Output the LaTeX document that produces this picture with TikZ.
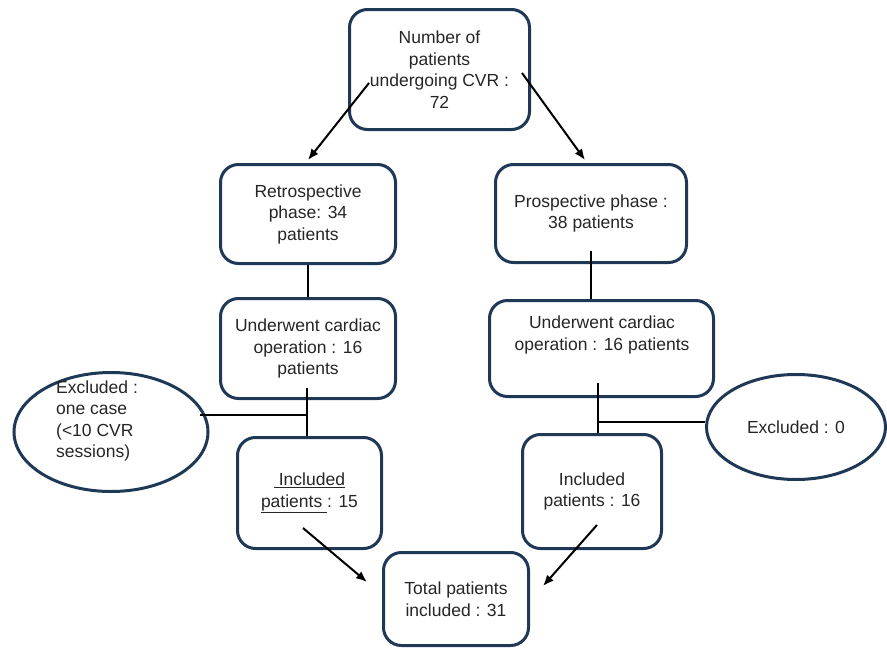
\documentclass[tikz,border=0pt]{standalone}
\usepackage{fontspec}
\setmainfont{Liberation Sans}
\usetikzlibrary{arrows.meta,calc,shapes.geometric}
\definecolor{navy}{RGB}{31,56,86}
\begin{document}
\begin{tikzpicture}[x=1pt,y=-1pt,
  lbl/.style={font=\fontsize{17.5}{21.5}\selectfont, text=black!85},
  box/.style={lbl, draw=navy, line width=3pt, rounded corners=18pt, fill=white, align=center, inner sep=0pt},
  oval/.style={lbl, draw=navy, line width=3pt, ellipse, fill=white, inner sep=0pt},
  conn/.style={line width=2pt, black},
  arr/.style={conn, -{Latex[length=11pt,width=9pt]}}]
\useasboundingbox (0,0) rectangle (887,648);

% boxes
\node[box, minimum width=180pt, minimum height=120pt] (top) at (439.5,69.5)
  {Number of\\patients\\undergoing CVR :\\72};
\node[box, minimum width=175pt, minimum height=99pt] (retro) at (308,214)
  {Retrospective\\phase: 34\\patients};
\node[box, minimum width=191pt, minimum height=98pt] (prosp) at (591,213.5)
  {Prospective phase :\\38 patients};
\node[box, minimum width=175pt, minimum height=100pt] (undL) at (308,348.5)
  {Underwent cardiac\\operation : 16\\patients};
\node[box, minimum width=224pt, minimum height=96pt] (undR) at (601.5,348.5) {};
\node[lbl, align=center, inner sep=0pt] (undRtext) at (602,335)
  {Underwent cardiac\\operation : 16 patients};
\node[box, minimum width=144pt, minimum height=111pt] (incL) at (309.5,493)
  {\underline{\ Included}\\\underline{patients\ }: 15};
\node[box, minimum width=139pt, minimum height=114pt] (incR) at (592,491.5)
  {Included\\patients : 16};
\node[box, minimum width=145pt, minimum height=93pt] (total) at (456,599)
  {Total patients\\included : 31};

% ellipses
\node[oval, minimum width=194pt, minimum height=119pt] (exL) at (111,432) {};
\node[lbl, align=left, anchor=west, inner sep=0pt] (exLtext) at (56,421)
  {Excluded :\\one case\\(<10 CVR\\sessions)};
\node[oval, minimum width=179pt, minimum height=105pt] (exR) at (796,427) {Excluded : 0};

% connector points
\coordinate (a1s) at (369,83);
\coordinate (a1t) at (308,160);
\coordinate (a2s) at (522,73);
\coordinate (a2t) at (585,160);
\coordinate (vR) at (591,251);
\coordinate (jL1) at (307,388);
\coordinate (jL2) at (307,415);
\coordinate (hL) at (200,415);
\coordinate (jR1) at (598,383);
\coordinate (jR2) at (598,422);
\coordinate (b1s) at (303,528);
\coordinate (b1t) at (367,582);
\coordinate (b2s) at (597,525);
\coordinate (b2t) at (543,586);

% connectors
\draw[arr] (a1s) -- (a1t);
\draw[arr] (a2s) -- (a2t);
\draw[conn] (retro.south) -- (undL.north);
\draw[conn] (vR) -- (vR |- undR.north);
\draw[conn] (jL1) -- (jL1 |- incL.north);
\draw[conn] (hL) -- (jL2);
\draw[conn] (jR1) -- (jR1 |- incR.north);
\draw[conn] (jR2) -- (exR.west |- jR2);
\draw[arr] (b1s) -- (b1t);
\draw[arr] (b2s) -- (b2t);
\end{tikzpicture}
\end{document}
